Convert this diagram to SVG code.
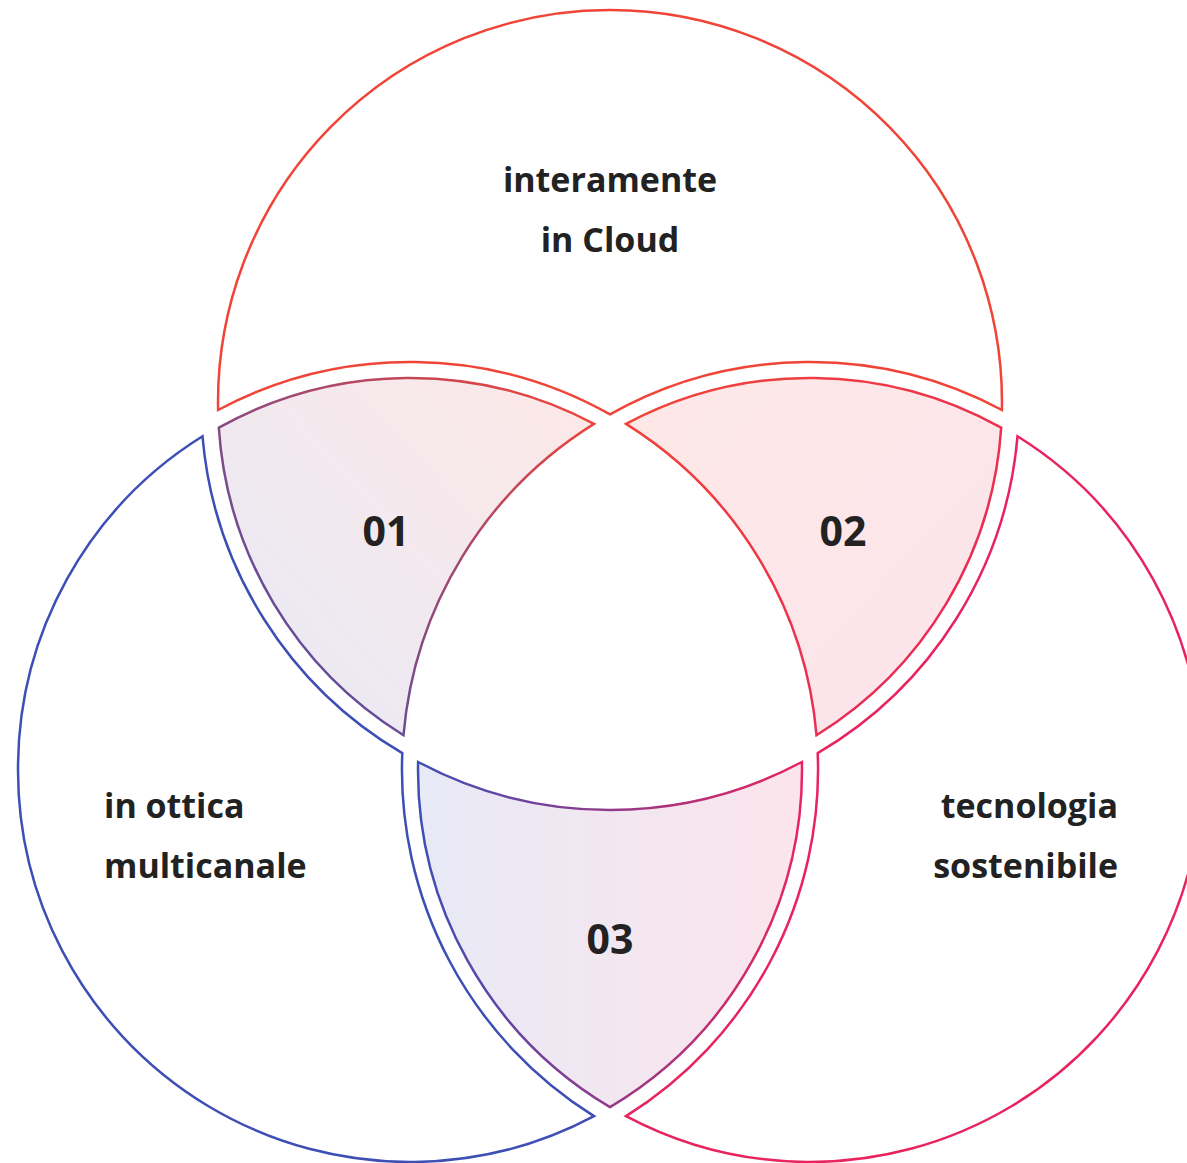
<svg xmlns="http://www.w3.org/2000/svg" width="1187" height="1163" viewBox="0 0 1187 1163">
<style>
.shape{fill:none;stroke-width:2.5;stroke-linejoin:miter}
.lens{stroke-width:2.5}
.lbl{font-family:"Open Sans","Liberation Sans",sans-serif;font-weight:bold;font-size:34px;fill:#222222}
.num{font-family:"Open Sans","Liberation Sans",sans-serif;font-weight:bold;font-size:41px;fill:#222222;text-anchor:middle}
</style>
<defs>
<linearGradient id="g01" gradientUnits="userSpaceOnUse" x1="594" y1="400" x2="230" y2="735">
<stop offset="0" stop-color="#f04438"/><stop offset="1" stop-color="#3d4fb5"/>
</linearGradient>
<linearGradient id="g02" gradientUnits="userSpaceOnUse" x1="626" y1="400" x2="1000" y2="735">
<stop offset="0" stop-color="#f04438"/><stop offset="1" stop-color="#e8245f"/>
</linearGradient>
<linearGradient id="g03" gradientUnits="userSpaceOnUse" x1="418" y1="0" x2="802" y2="0">
<stop offset="0" stop-color="#3d4fb5"/><stop offset="1" stop-color="#e8245f"/>
</linearGradient>
</defs>
<g id="top-circle">
<path class="shape" stroke="#f04438" d="M218.1,410 A392,392 0 0 1 610,10 A392,392 0 0 1 1001.9,410 A408,408 0 0 0 610,414.4 A408,408 0 0 0 218.1,410 Z"/>
<text class="lbl" x="610" y="192" text-anchor="middle">interamente</text>
<text class="lbl" x="610" y="252" text-anchor="middle">in Cloud</text>
</g>
<g id="left-circle">
<path class="shape" stroke="#3d4fb5" d="M202.5,436.3 A392,392 0 0 0 18,770 A392,392 0 0 0 594,1116.1 A408,408 0 0 1 402.3,753.2 A408,408 0 0 1 202.5,436.3 Z"/>
<text class="lbl" x="104" y="818">in ottica</text>
<text class="lbl" x="104" y="878">multicanale</text>
</g>
<g id="right-circle">
<path class="shape" stroke="#e8245f" d="M1017.5,436.3 A392,392 0 0 1 1202,770 A392,392 0 0 1 626,1116.1 A408,408 0 0 0 817.7,753.2 A408,408 0 0 0 1017.5,436.3 Z"/>
<text class="lbl" x="1118" y="818" text-anchor="end">tecnologia</text>
<text class="lbl" x="1118" y="878" text-anchor="end">sostenibile</text>
</g>
<g id="lens-01">
<path class="lens" fill="url(#g01)" fill-opacity="0.12" stroke="url(#g01)" d="M218.8,427.7 A392,392 0 0 0 403.5,735.2 A408,408 0 0 1 594,423.9 A392,392 0 0 0 218.8,427.7 Z"/>
<text class="num" x="386" y="546">01</text>
</g>
<g id="lens-02">
<path class="lens" fill="url(#g02)" fill-opacity="0.12" stroke="url(#g02)" d="M1001.2,427.7 A392,392 0 0 1 816.5,735.2 A408,408 0 0 0 626,423.9 A392,392 0 0 1 1001.2,427.7 Z"/>
<text class="num" x="843" y="546">02</text>
</g>
<g id="lens-03">
<path class="lens" fill="url(#g03)" fill-opacity="0.12" stroke="url(#g03)" d="M418.1,762 A408,408 0 0 0 801.9,762 A392,392 0 0 1 610,1107.1 A392,392 0 0 1 418.1,762 Z"/>
<text class="num" x="610" y="954">03</text>
</g>
<g id="connectors"/>
</svg>
